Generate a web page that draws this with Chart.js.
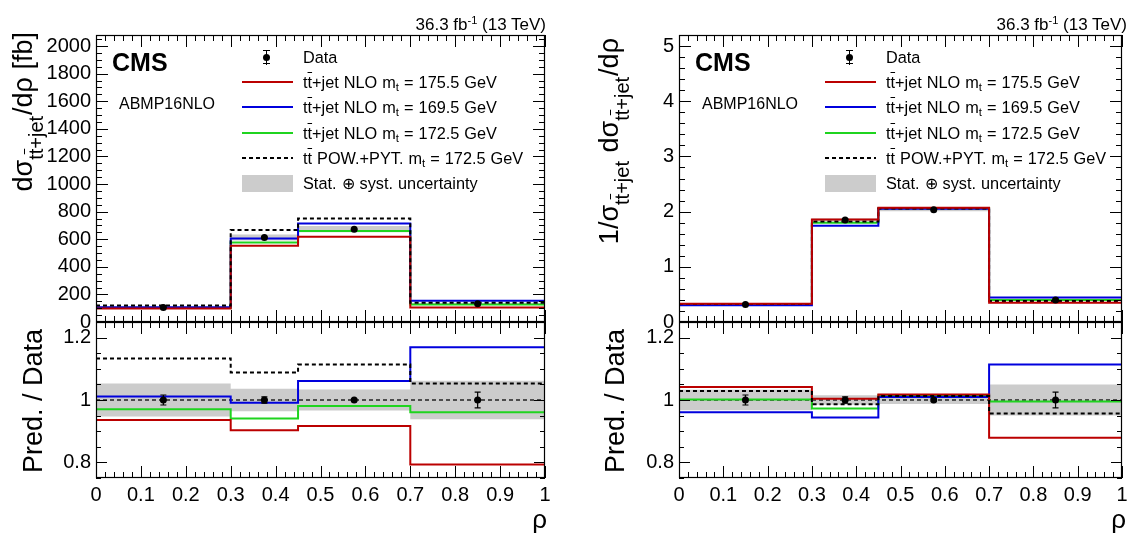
<!DOCTYPE html>
<html>
<head>
<meta charset="utf-8">
<script src="https://cdn.jsdelivr.net/npm/chart.js@4.4.1/dist/chart.umd.min.js"></script>
<style>
  body { margin:0; width:1129px; height:533px; overflow:hidden; position:relative; background:#fff;
         font-family:"Liberation Sans", Arial, Helvetica, sans-serif; color:#000; }
  canvas { position:absolute; }
  .t { position:absolute; white-space:nowrap; line-height:1; }
  .rot { transform-origin:0 0; transform:rotate(-90deg); }
  .ov { text-decoration:overline; text-decoration-thickness:1px; }
  .t sub { font-size:0.7em; vertical-align:-0.3em; line-height:0; }
  .t sup { font-size:0.65em; vertical-align:0.5em; line-height:0; }
  .s { font-size:20px; vertical-align:-11px; margin-right:1px; }
  .sym { position:absolute; }
</style>
</head>
<body>
<canvas id="absTop" width="564" height="340" style="left:0px;top:0px"></canvas>
<canvas id="absRatio" width="564" height="233" style="left:0px;top:300px"></canvas>
<canvas id="normTop" width="560" height="340" style="left:580px;top:0px"></canvas>
<canvas id="normRatio" width="560" height="233" style="left:580px;top:300px"></canvas>
<script>
// bins in rho
var binEdges = [0, 0.3, 0.45, 0.7, 1];
var binCentres = [0.15, 0.375, 0.575, 0.85];

// absolute cross section [fb]
var absData = [105, 612, 673, 132];
var absDataErr = [1.6, 6, 3, 3.3];
var absUnc = [5.5, 22, 23, 8];
var absNlo1755 = [98, 553, 617, 105];
var absNlo1695 = [106, 606, 714, 154];
var absNlo1725 = [102, 576, 660, 127];
var absPowPyt = [119, 666, 750, 139];

// absolute: pred. / data
var absRatioDataErr = [0.016, 0.01, 0.004, 0.025];
var absRatioUnc = [0.053, 0.036, 0.034, 0.062];
var absRatio1755 = [0.936, 0.903, 0.917, 0.793];
var absRatio1695 = [1.011, 0.991, 1.061, 1.169];
var absRatio1725 = [0.970, 0.941, 0.981, 0.961];
var absRatioPowPyt = [1.133, 1.088, 1.114, 1.053];

// normalised cross section
var normData = [0.317, 1.848, 2.032, 0.399];
var normDataErr = [0.005, 0.018, 0.008, 0.01];
var normUnc = [0.011, 0.028, 0.026, 0.02];
var norm1755 = [0.330, 1.855, 2.069, 0.351];
var norm1695 = [0.305, 1.745, 2.052, 0.444];
var norm1725 = [0.318, 1.798, 2.062, 0.397];
var normPowPyt = [0.326, 1.822, 2.058, 0.382];

// normalised: pred. / data
var normRatioDataErr = [0.016, 0.01, 0.004, 0.025];
var normRatioUnc = [0.033, 0.015, 0.013, 0.05];
var normRatio1755 = [1.042, 1.004, 1.018, 0.879];
var normRatio1695 = [0.961, 0.944, 1.010, 1.114];
var normRatio1725 = [1.002, 0.973, 1.015, 0.995];
var normRatioPowPyt = [1.029, 0.986, 1.013, 0.957];
var ratioUnity = [1, 1, 1, 1];

var RED = "#bb0000", BLUE = "#0000dd", GREEN = "#1fd41f", GREY = "#cccccc";

Chart.defaults.font.family = '"Liberation Sans", Arial, Helvetica, sans-serif';
Chart.defaults.color = "#000";

function stepPoints(vals) {
  return binEdges.map(function(e, i) {
    return {x: e, y: vals[Math.min(i, vals.length - 1)]};
  });
}

function histLine(vals, color, dash, width, order) {
  return {data: stepPoints(vals), stepped: "before", borderColor: color, borderWidth: width,
          borderDash: dash, pointRadius: 0, fill: false, order: order, borderJoinStyle: "miter"};
}

function band(centre, unc) {
  var up = centre.map(function(v, i) { return v + unc[i]; });
  var lo = centre.map(function(v, i) { return v - unc[i]; });
  return [
    {data: stepPoints(up), stepped: "before", borderColor: "rgba(0,0,0,0)", borderWidth: 0,
     pointRadius: 0, fill: false, order: 20},
    {data: stepPoints(lo), stepped: "before", borderColor: "rgba(0,0,0,0)", borderWidth: 0,
     pointRadius: 0, fill: "-1", backgroundColor: GREY, order: 20}
  ];
}

function dataPoints(vals, errs) {
  return {data: binCentres.map(function(x, i) { return {x: x, y: vals[i]}; }), errs: errs,
          showLine: false, pointRadius: 3.5, pointBackgroundColor: "#000", pointBorderWidth: 0, order: 0};
}

var errorBars = {
  id: "errorBars",
  afterDatasetsDraw: function(chart) {
    var ctx = chart.ctx, ys = chart.scales.y;
    chart.data.datasets.forEach(function(ds, i) {
      if (!ds.errs) return;
      var meta = chart.getDatasetMeta(i);
      ctx.save();
      ctx.strokeStyle = "#000";
      ctx.lineWidth = 1.2;
      meta.data.forEach(function(pt, j) {
        var v = ds.data[j].y, e = ds.errs[j];
        var y1 = ys.getPixelForValue(v + e), y2 = ys.getPixelForValue(v - e);
        ctx.beginPath();
        ctx.moveTo(pt.x, y1); ctx.lineTo(pt.x, y2);
        ctx.moveTo(pt.x - 3, y1); ctx.lineTo(pt.x + 3, y1);
        ctx.moveTo(pt.x - 3, y2); ctx.lineTo(pt.x + 3, y2);
        ctx.stroke();
      });
      ctx.restore();
    });
  }
};

// ROOT style frame with inward ticks on all four sides
var rootFrame = {
  id: "rootFrame",
  afterDraw: function(chart, args, o) {
    var ctx = chart.ctx, a = chart.chartArea, x = chart.scales.x, y = chart.scales.y;
    ctx.save();
    ctx.strokeStyle = "#000";
    ctx.lineWidth = 1;
    ctx.beginPath();
    var i, p, len;
    for (i = Math.ceil(x.min / o.xMinor - 1e-6); i * o.xMinor <= x.max + 1e-9; i++) {
      p = Math.round(x.getPixelForValue(i * o.xMinor)) + 0.5;
      len = i % o.xPer === 0 ? o.xMaj : o.xMin;
      ctx.moveTo(p, a.bottom); ctx.lineTo(p, a.bottom - len);
      ctx.moveTo(p, a.top); ctx.lineTo(p, a.top + len);
    }
    for (i = Math.ceil(y.min / o.yMinor - 1e-6); i * o.yMinor <= y.max + 1e-9; i++) {
      p = Math.round(y.getPixelForValue(i * o.yMinor)) + 0.5;
      len = i % o.yPer === 0 ? o.yMaj : o.yMin;
      ctx.moveTo(a.left, p); ctx.lineTo(a.left + len, p);
      ctx.moveTo(a.right, p); ctx.lineTo(a.right - len, p);
    }
    ctx.stroke();
    ctx.lineWidth = 1.2;
    ctx.strokeRect(Math.round(a.left) + 0.5, Math.round(a.top) + 0.5,
                   Math.round(a.right - a.left) - 1, Math.round(a.bottom - a.top) - 1);
    ctx.restore();
  }
};

function fmt(v) { return String(+v.toFixed(3)); }

function panel(id, c) {
  return new Chart(document.getElementById(id), {
    type: "line",
    data: {datasets: c.datasets},
    options: {
      animation: false, responsive: false, events: [],
      layout: {padding: c.padding},
      plugins: {legend: {display: false}, tooltip: {enabled: false}, rootFrame: c.frame},
      scales: {
        x: {type: "linear", min: 0, max: 1, display: c.showX,
            ticks: {stepSize: 0.1, autoSkip: false, maxRotation: 0, padding: 5, font: {size: 20}, callback: fmt},
            grid: {display: false, drawTicks: false}, border: {display: false},
            afterFit: function(s) { s.height = c.showX ? 40 : 0; }},
        y: {type: "linear", min: c.yMin, max: c.yMax,
            ticks: {stepSize: c.yStep, autoSkip: false, padding: 5, font: {size: 20}, callback: fmt, includeBounds: false},
            grid: {display: false, drawTicks: false}, border: {display: false},
            afterFit: function(s) { s.width = c.yWidth; }}
      }
    },
    plugins: [errorBars, rootFrame]
  });
}

var topFrameL = {xMinor: 0.02, xPer: 5, xMaj: 12, xMin: 6, yMinor: 50, yPer: 4, yMaj: 12, yMin: 6};
var topFrameR = {xMinor: 0.02, xPer: 5, xMaj: 12, xMin: 6, yMinor: 0.2, yPer: 5, yMaj: 12, yMin: 6};
var ratioFrame = {xMinor: 0.02, xPer: 5, xMaj: 12, xMin: 6, yMinor: 0.05, yPer: 4, yMaj: 11, yMin: 5};

panel("absTop", {
  datasets: band(absData, absUnc).concat([
    histLine(absNlo1725, GREEN, [], 2, 8),
    histLine(absNlo1695, BLUE, [], 2, 7),
    histLine(absNlo1755, RED, [], 2, 6),
    histLine(absPowPyt, "#000", [4, 3], 2, 5),
    dataPoints(absData, absDataErr)
  ]),
  padding: {top: 35, bottom: 18, left: 0, right: 19},
  showX: false, yMin: 0, yMax: 2080, yStep: 200, yWidth: 96, frame: topFrameL
});

panel("absRatio", {
  datasets: band(ratioUnity, absRatioUnc).concat([
    histLine(ratioUnity, "#222", [4, 3], 1.5, 9),
    histLine(absRatio1725, GREEN, [], 2, 8),
    histLine(absRatio1695, BLUE, [], 2, 7),
    histLine(absRatio1755, RED, [], 2, 6),
    histLine(absRatioPowPyt, "#000", [4, 3], 2, 5),
    dataPoints(ratioUnity, absRatioDataErr)
  ]),
  padding: {top: 22, bottom: 15, left: 0, right: 19},
  showX: true, yMin: 0.75, yMax: 1.25, yStep: 0.2, yWidth: 96, frame: ratioFrame
});

panel("normTop", {
  datasets: band(normData, normUnc).concat([
    histLine(norm1725, GREEN, [], 2, 8),
    histLine(norm1695, BLUE, [], 2, 7),
    histLine(normPowPyt, "#000", [4, 3], 2, 6),
    histLine(norm1755, RED, [], 2, 5),
    dataPoints(normData, normDataErr)
  ]),
  padding: {top: 35, bottom: 18, left: 0, right: 18},
  showX: false, yMin: 0, yMax: 5.2, yStep: 1, yWidth: 99, frame: topFrameR
});

panel("normRatio", {
  datasets: band(ratioUnity, normRatioUnc).concat([
    histLine(ratioUnity, "#222", [4, 3], 1.5, 9),
    histLine(normRatio1725, GREEN, [], 2, 8),
    histLine(normRatio1695, BLUE, [], 2, 7),
    histLine(normRatio1755, RED, [], 2, 6),
    histLine(normRatioPowPyt, "#000", [4, 3], 2, 5),
    dataPoints(ratioUnity, normRatioDataErr)
  ]),
  padding: {top: 22, bottom: 15, left: 0, right: 18},
  showX: true, yMin: 0.75, yMax: 1.25, yStep: 0.2, yWidth: 99, frame: ratioFrame
});

// ---- texts and legends ----
function txt(html, css, cls) {
  var d = document.createElement("div");
  d.className = "t" + (cls ? " " + cls : "");
  d.innerHTML = html;
  Object.assign(d.style, css);
  document.body.appendChild(d);
  return d;
}
function box(css) {
  var d = document.createElement("div");
  d.className = "sym";
  Object.assign(d.style, css);
  document.body.appendChild(d);
}

var TT = 't<span class="ov">t</span>';
var legendRows = [
  {kind: "data", html: "Data"},
  {kind: "line", color: RED, html: TT + "+jet NLO m<sub>t</sub> = 175.5 GeV"},
  {kind: "line", color: BLUE, html: TT + "+jet NLO m<sub>t</sub> = 169.5 GeV"},
  {kind: "line", color: GREEN, html: TT + "+jet NLO m<sub>t</sub> = 172.5 GeV"},
  {kind: "dash", html: TT + " POW.+PYT. m<sub>t</sub> = 172.5 GeV"},
  {kind: "band", html: "Stat. &#8853; syst. uncertainty"}
];

function decorate(ox, lumiRight, rhoRight) {
  txt("36.3 fb<sup>-1</sup> (13 TeV)", {left: (lumiRight - 250) + "px", width: "250px", textAlign: "right", top: "16px", fontSize: "17px"});
  txt("CMS", {left: (112 + ox) + "px", top: "50px", fontSize: "25px", fontWeight: "bold"});
  txt("ABMP16NLO", {left: (119 + ox) + "px", top: "96px", fontSize: "16px"});
  txt("&rho;", {left: (rhoRight - 60) + "px", width: "60px", textAlign: "right", top: "506px", fontSize: "26px"});
  legendRows.forEach(function(r, i) {
    var yc = 57 + 25.2 * i, sx = 241.5 + ox, sw = 51;
    txt(r.html, {left: (303 + ox) + "px", top: (yc - 8) + "px", fontSize: "16.3px", wordSpacing: "0.5px"});
    if (r.kind === "line") {
      box({left: sx + "px", top: (yc - 1) + "px", width: sw + "px", height: "2px", background: r.color});
    } else if (r.kind === "dash") {
      box({left: sx + "px", top: (yc - 1) + "px", width: sw + "px", height: "2px",
           background: "repeating-linear-gradient(90deg,#000 0 4px,transparent 4px 7px)"});
    } else if (r.kind === "band") {
      box({left: sx + "px", top: (yc - 8) + "px", width: sw + "px", height: "17px", background: GREY});
    } else {
      var cx = sx + 25;
      box({left: (cx - 0.6) + "px", top: (yc - 7) + "px", width: "1.2px", height: "14.5px", background: "#000"});
      box({left: (cx - 3.5) + "px", top: (yc - 7) + "px", width: "7px", height: "1.2px", background: "#000"});
      box({left: (cx - 3.5) + "px", top: (yc + 6.3) + "px", width: "7px", height: "1.2px", background: "#000"});
      box({left: (cx - 3.5) + "px", top: (yc - 3.5) + "px", width: "7px", height: "7px", borderRadius: "50%", background: "#000"});
    }
  });
}
decorate(0, 546, 547);
decorate(583, 1127, 1126);

// y axis titles
var SUB = '<span class="s">' + TT + '+jet</span>';
txt("d&sigma;" + SUB + "/d&rho; [fb]", {left: "10px", top: "232px", width: "200px", textAlign: "right", fontSize: "27px"}, "rot");
txt("Pred. / Data", {left: "20px", top: "501px", width: "200px", textAlign: "center", fontSize: "27px"}, "rot");
txt("1/&sigma;" + SUB + " d&sigma;" + SUB + "/d&rho;", {left: "596px", top: "298px", width: "260px", textAlign: "right", fontSize: "27px"}, "rot");
txt("Pred. / Data", {left: "602px", top: "501px", width: "200px", textAlign: "center", fontSize: "27px"}, "rot");
</script>
</body>
</html>
